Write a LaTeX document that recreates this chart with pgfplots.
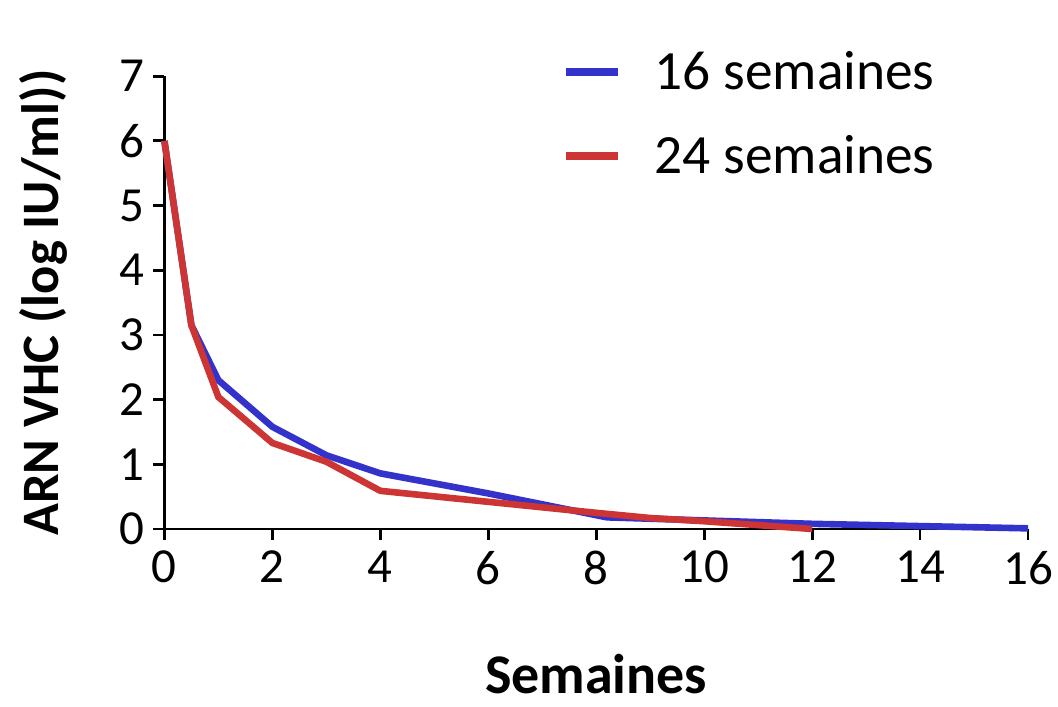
\documentclass[border=0pt]{standalone}
\usepackage{fontspec}
\setmainfont{Carlito}
\usepackage{pgfplots}
\pgfplotsset{compat=1.18}
\definecolor{cblue}{RGB}{51,51,204}
\definecolor{cred}{RGB}{205,52,52}
\begin{document}
\begin{tikzpicture}
\path[use as bounding box] (0,0) rectangle (529pt,353pt);
\begin{axis}[
  at={(82.2pt,88.5pt)}, anchor=south west,
  scale only axis, width=431.8pt, height=226.4pt,
  xmin=0, xmax=16, ymin=0, ymax=7,
  axis lines*=left,
  xtick={0,2,...,16}, ytick={0,...,7},
  tick align=outside, major tick length=5.5pt,
  tick style={black, line width=1.4pt},
  axis line style={black, line width=1.4pt},
  tick label style={font=\fontsize{24.5}{29}\selectfont},
  /pgf/number format/assume math mode=true,
  xticklabel style={yshift=-2pt},
  yticklabel style={xshift=-1pt},
  xlabel={\textbf{Semaines}},
  ylabel={\textbf{ARN VHC (log IU/ml))}},
  xlabel style={font=\fontsize{28}{33}\selectfont, inner sep=0pt, at={(axis description cs:0.5,-0.3640)}, anchor=base},
  ylabel style={font=\fontsize{26.3}{31}\selectfont, inner sep=0pt, at={(axis description cs:-0.1227,0.5)}, anchor=base, rotate=0},
  clip=false,
  legend style={at={(axis description cs:0.4593,1.059)}, anchor=north west,
    draw=none, fill=none, inner sep=0pt,
    font=\fontsize{27.7}{33}\selectfont,
    nodes={inner sep=0pt, text height=20pt, text depth=6pt},
    row sep=16pt,
    /tikz/every odd column/.append style={column sep=16.5pt}},
  legend cell align=left,
  legend image code/.code={\draw[#1, line width=4.2pt] (0pt,2pt) -- (26pt,2pt);},
]
\addplot[cblue, line width=3.3pt, line join=round] coordinates {
 (0,6.0) (0.5,3.15) (1,2.30) (2,1.58) (3,1.14) (4,0.86) (6,0.55) (8.2,0.18) (12,0.08) (16,0.01)};
\addlegendentry{16 semaines}
\addplot[cred, line width=3.3pt, line join=round] coordinates {
 (0,6.0) (0.5,3.15) (1,2.04) (2,1.33) (3,1.04) (4,0.59) (8,0.25) (9,0.17) (10,0.12) (12,0.0)};
\addlegendentry{24 semaines}
\end{axis}
\end{tikzpicture}
\end{document}
